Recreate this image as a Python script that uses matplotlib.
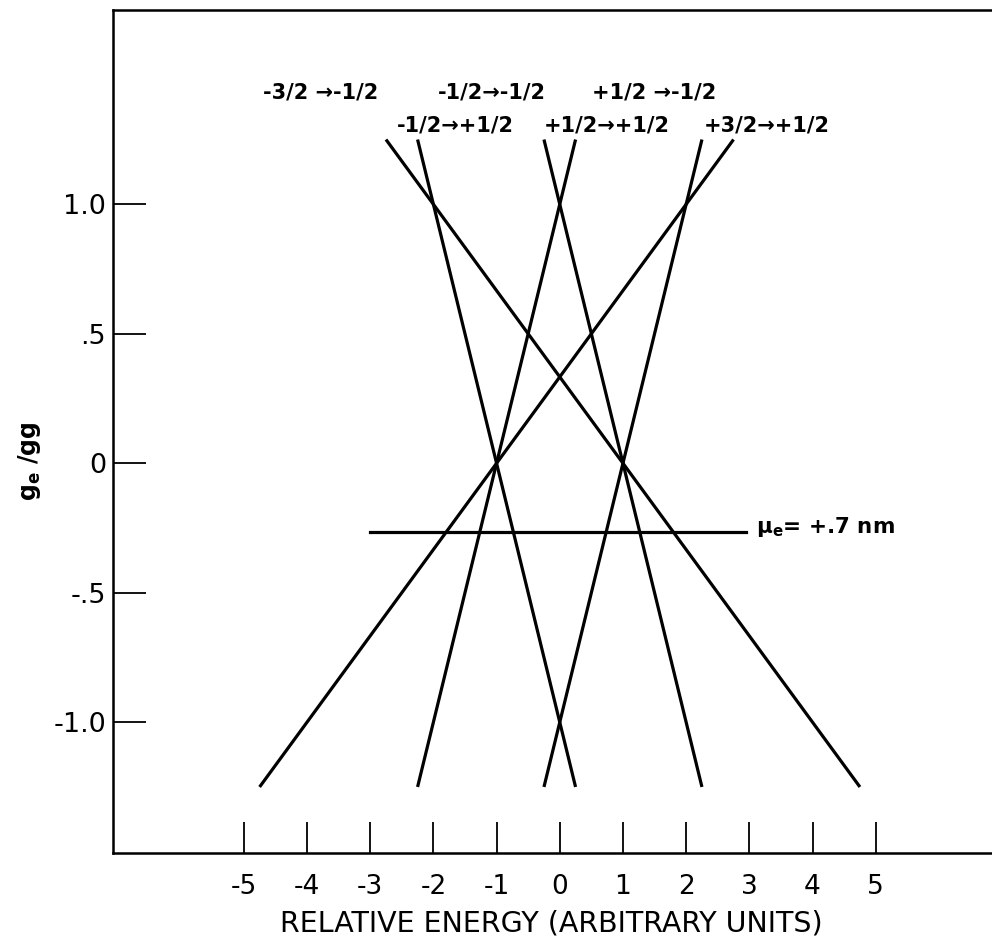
import matplotlib
matplotlib.use("Agg")
import matplotlib.pyplot as plt

# g_e/g_g at the two ends of each transition line
ratio_ends = [-1.25, 1.25]

transitions = ["-3/2 \u2192-1/2", "-1/2\u2192+1/2", "+1/2\u2192+1/2",
               "-1/2\u2192-1/2", "+1/2 \u2192-1/2", "+3/2\u2192+1/2"]
energy_bottom = [4.75, 0.25, -2.25, 2.25, -0.25, -4.75]
energy_top = [-2.75, -2.25, 0.25, -0.25, 2.25, 2.75]

# label positions (energy, ratio) for each transition
label_x = [-3.78, -1.65, 0.75, -1.08, 1.50, 3.28]
label_y = [1.43, 1.305, 1.305, 1.43, 1.43, 1.305]

# measured moment line
mu_ratio = -0.265
mu_energy = [-3.0, 2.95]
mu_label = r"$\mu_e$= +.7 nm"

xticks = [-5, -4, -3, -2, -1, 0, 1, 2, 3, 4, 5]
yticks = [-1.0, -0.5, 0, 0.5, 1.0]
ytick_labels = ["-1.0", "-.5", "0", ".5", "1.0"]

plt.rcParams["font.family"] = ["DejaVu Sans"]
plt.rcParams["mathtext.default"] = "regular"

fig = plt.figure(figsize=(9.92, 9.46), dpi=100)
ax = fig.add_axes([0.1139, 0.0983, 0.8861, 0.8911])

for eb, et in zip(energy_bottom, energy_top):
    ax.plot([eb, et], ratio_ends, color="black", lw=2.3, solid_capstyle="butt")

ax.plot(mu_energy, [mu_ratio, mu_ratio], color="black", lw=2.3)
ax.text(mu_energy[1] + 0.15, mu_ratio + 0.02, mu_label, fontsize=15.5,
        fontweight="bold", ha="left", va="center")

for name, lx, ly in zip(transitions, label_x, label_y):
    ax.text(lx, ly, name, fontsize=15, fontweight="bold",
            ha="center", va="center")

ax.set_xlim(-7.07, 6.84)
ax.set_ylim(-1.505, 1.75)

ax.set_xticks(xticks)
ax.set_xticklabels([str(t) for t in xticks])
ax.set_yticks(yticks)
ax.set_yticklabels(ytick_labels)
ax.tick_params(axis="x", direction="in", length=22, width=1.3, pad=15,
               labelsize=19)
ax.tick_params(axis="y", direction="in", length=24, width=1.3, pad=5,
               labelsize=19.5)

ax.spines["right"].set_visible(False)
for s in ["left", "top", "bottom"]:
    ax.spines[s].set_linewidth(1.8)

fig.text(0.556, 0.0085, "RELATIVE ENERGY (ARBITRARY UNITS)", fontsize=20.5,
         ha="center", va="bottom")
fig.text(0.03, 0.513, "g$_e$ /gg", rotation=90, fontsize=17,
         fontweight="bold", ha="center", va="center")

fig.savefig("out.png", dpi=100)
